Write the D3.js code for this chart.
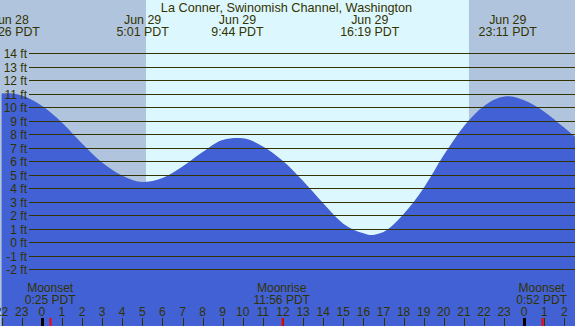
<!DOCTYPE html>
<html>
<head>
<meta charset="utf-8">
<script src="https://cdn.jsdelivr.net/npm/d3@7"></script>
<style>
html,body{margin:0;padding:0;background:#fff;}
svg{display:block;}
text{font-family:"Liberation Sans",Arial,sans-serif;font-size:12px;}
</style>
</head>
<body>
<script>
// hours measured from midnight starting Jun 29 (PDT)
const tideHours   = [-2, -1.567, -1, 0, 1, 2, 3, 4, 5.017, 6, 7, 8, 9, 9.733, 10, 11, 12, 13, 14, 15, 16, 16.317, 17, 18, 19, 20, 21, 22, 23.183, 24, 25, 26, 27];
const tideHeights = [11.0, 11.02, 10.85, 10.1, 8.86, 7.3, 5.89, 4.92, 4.44, 4.74, 5.59, 6.66, 7.56, 7.7, 7.68, 7.08, 6.0, 4.51, 2.87, 1.36, 0.64, 0.52, 0.75, 2.07, 4.0, 6.44, 8.58, 10.08, 10.8, 10.5, 9.65, 8.46, 7.2];

const eventHours = [-1.567, 5.017, 9.733, 16.317, 23.183];
const eventDates = ["Jun 28", "Jun 29", "Jun 29", "Jun 29", "Jun 29"];
const eventTimes = ["22:26 PDT", "5:01 PDT", "9:44 PDT", "16:19 PDT", "23:11 PDT"];

const moonHours = [0.417, 11.933, 24.867];
const moonNames = ["Moonset", "Moonrise", "Moonset"];
const moonTimes = ["0:25 PDT", "11:56 PDT", "0:52 PDT"];

const sunriseHour = 5.184;
const sunsetHour = 21.25;

const yTicks = [-2, -1, 0, 1, 2, 3, 4, 5, 6, 7, 8, 9, 10, 11, 12, 13, 14];
const hourTicks = [-2, -1, 0, 1, 2, 3, 4, 5, 6, 7, 8, 9, 10, 11, 12, 13, 14, 15, 16, 17, 18, 19, 20, 21, 22, 23, 24, 25, 26];
const hourLabels = ["22", "23", "0", "1", "2", "3", "4", "5", "6", "7", "8", "9", "10", "11", "12", "13", "14", "15", "16", "17", "18", "19", "20", "21", "22", "23", "0", "1", "2"];

const title = "La Conner, Swinomish Channel, Washington";

const W = 575, H = 326;
const x = d3.scaleLinear().domain([0, 24]).range([41.8, 41.8 + 20.1 * 24]);
const y = d3.scaleLinear().domain([-2, 14]).range([269, 53]);

const svg = d3.select("body").append("svg").attr("width", W).attr("height", H);

const nightCol = "#b0c4de", dayCol = "#ddf7ff", waterCol = "#4161d4", ink = "#333300";

// backgrounds
svg.append("rect").attr("x", 0).attr("y", 0).attr("width", W).attr("height", H).attr("fill", nightCol);
svg.append("rect").attr("x", x(sunriseHour)).attr("y", 0)
  .attr("width", x(sunsetHour) - x(sunriseHour)).attr("height", H).attr("fill", dayCol);

// water
const tide = tideHours.map((h, i) => ({h, v: tideHeights[i]}));
const area = d3.area().x(d => x(d.h)).y0(H).y1(d => y(d.v)).curve(d3.curveMonotoneX);
svg.append("path").datum(tide).attr("d", area).attr("fill", waterCol);

// grid lines and y labels
const gy = svg.append("g");
yTicks.forEach(t => {
  const yy = Math.round(y(t)) + 0.5;
  gy.append("line").attr("x1", 29).attr("x2", W).attr("y1", yy).attr("y2", yy)
    .attr("stroke", ink).attr("stroke-width", 1);
  gy.append("text").attr("x", 27).attr("y", yy + 4).attr("text-anchor", "end")
    .attr("fill", ink).text(t + " ft");
});

// title and event labels
svg.append("text").attr("x", 286.5).attr("y", 12).attr("text-anchor", "middle")
  .style("font-size", "12.7px").attr("fill", ink).text(title);
eventHours.forEach((h, i) => {
  svg.append("text").attr("x", x(h)).attr("y", 24).attr("text-anchor", "middle")
    .style("font-size", "12.4px").attr("fill", ink).text(eventDates[i]);
  svg.append("text").attr("x", x(h)).attr("y", 36).attr("text-anchor", "middle")
    .style("font-size", "12.4px").attr("fill", ink).text(eventTimes[i]);
});

// hour ticks
const gx = svg.append("g");
hourTicks.forEach((h, i) => {
  const xx = Math.round(x(h)) + 0.5;
  const midnight = (h % 24 === 0);
  gx.append("line").attr("x1", xx).attr("x2", xx).attr("y1", 318).attr("y2", H)
    .attr("stroke", midnight ? "#000" : ink).attr("stroke-width", midnight ? 3 : 1);
  gx.append("text").attr("x", x(h)).attr("y", 315.5).attr("text-anchor", "middle")
    .attr("fill", ink).text(hourLabels[i]);
});

// moon events
moonHours.forEach((h, i) => {
  const xx = Math.round(x(h)) + 0.5;
  svg.append("line").attr("x1", xx).attr("x2", xx).attr("y1", 318).attr("y2", H)
    .attr("stroke", "#ff0000").attr("stroke-width", 2);
  svg.append("text").attr("x", x(h)).attr("y", 292).attr("text-anchor", "middle").attr("fill", ink).text(moonNames[i]);
  svg.append("text").attr("x", x(h)).attr("y", 303.5).attr("text-anchor", "middle").attr("fill", ink).text(moonTimes[i]);
});
</script>
</body>
</html>
